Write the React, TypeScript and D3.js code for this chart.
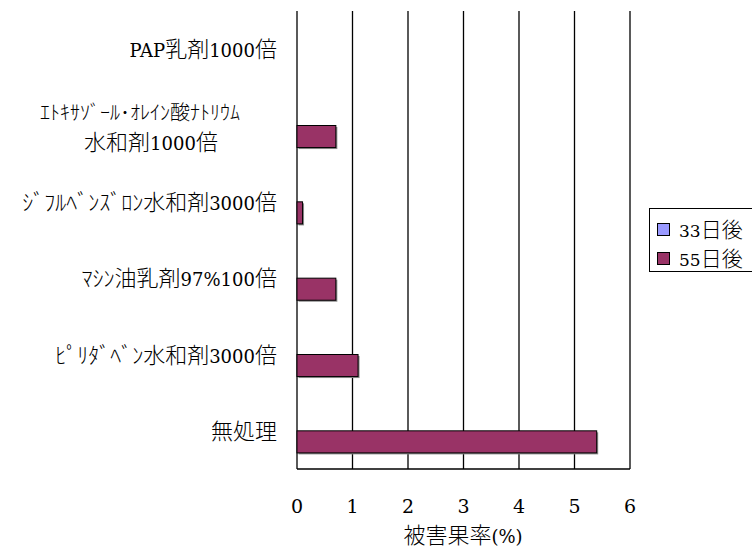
import React, { useEffect, useRef } from 'react';
import * as d3 from 'd3';

// categories top to bottom, "\n" splits a wrapped label
const categories = [
  'PAP乳剤1000倍',
  'ｴﾄｷｻｿﾞｰﾙ･ｵﾚｲﾝ酸ﾅﾄﾘｳﾑ\n水和剤1000倍',
  'ｼﾞﾌﾙﾍﾞﾝｽﾞﾛﾝ水和剤3000倍',
  'ﾏｼﾝ油乳剤97%100倍',
  'ﾋﾟﾘﾀﾞﾍﾞﾝ水和剤3000倍',
  '無処理',
];
const seriesNames = ['33日後', '55日後'];
const values33 = [0, 0, 0, 0, 0, 0];
const values55 = [0, 0.7, 0.1, 0.7, 1.1, 5.4];
const xTicks = [0, 1, 2, 3, 4, 5, 6];
const xTitle = '被害果率(%)';

const colors = ['#9999FF', '#993366'];
const LATIN = '"DejaVu Serif", serif';
const CJK = '"Noto Sans CJK JP", sans-serif';

// write text as runs: ascii in a serif face (a bit smaller), the rest in the CJK face
function mixedText(sel: any, str: string, size: number) {
  const runs = str.match(/[\x20-\x7e]+|[^\x20-\x7e]+/g) || [];
  runs.forEach(r => {
    const ascii = /^[\x20-\x7e]+$/.test(r);
    sel.append('tspan')
      .attr('font-family', ascii ? LATIN : CJK)
      .attr('font-weight', ascii ? 400 : 300)
      .attr('font-size', ascii ? Math.round(size * 0.82) : size)
      .text(r);
  });
  return sel;
}

const App = () => {
  const svgRef = useRef<SVGSVGElement>(null);

  useEffect(() => {
    const svg = d3.select(svgRef.current);
    svg.selectAll('*').remove();

    const left = 297, right = 630, top = 11, bottom = 469;

    const x = d3.scaleLinear().domain([0, 6]).range([left, right]);
    const y = d3.scaleBand().domain(categories).range([top, bottom]);
    const ySub = d3.scaleBand().domain(seriesNames)
      .range([0, y.bandwidth()])
      .paddingOuter(0.73);

    // vertical grid lines
    svg.append('g')
      .selectAll('line')
      .data(xTicks)
      .enter().append('line')
      .attr('x1', d => x(d))
      .attr('x2', d => x(d))
      .attr('y1', top)
      .attr('y2', bottom)
      .attr('stroke', '#000')
      .attr('stroke-width', 1.3);

    // bottom axis line
    svg.append('line')
      .attr('x1', left).attr('x2', right)
      .attr('y1', bottom).attr('y2', bottom)
      .attr('stroke', '#000')
      .attr('stroke-width', 1.3);

    // bars
    const series = [values33, values55];
    series.forEach((vals, si) => {
      const g = svg.append('g');
      const rows = categories.map((c, i) => ({ c, v: vals[i] })).filter(d => d.v > 0);
      // slight shadow
      g.selectAll('rect.shadow')
        .data(rows)
        .enter().append('rect')
        .attr('class', 'shadow')
        .attr('x', x(0) + 1.5)
        .attr('y', d => (y(d.c) as number) + (ySub(seriesNames[si]) as number) + 1.5)
        .attr('width', d => x(d.v) - x(0))
        .attr('height', ySub.bandwidth())
        .attr('fill', '#8a8a8a');
      g.selectAll('rect.bar')
        .data(rows)
        .enter().append('rect')
        .attr('class', 'bar')
        .attr('x', x(0))
        .attr('y', d => (y(d.c) as number) + (ySub(seriesNames[si]) as number))
        .attr('width', d => x(d.v) - x(0))
        .attr('height', ySub.bandwidth())
        .attr('fill', colors[si])
        .attr('stroke', '#000')
        .attr('stroke-width', 1);
    });

    // category labels
    categories.forEach(c => {
      const lines = c.split('\n');
      const cy = (y(c) as number) + y.bandwidth() / 2;
      if (lines.length === 1) {
        const t = svg.append('text')
          .attr('x', 277)
          .attr('y', cy)
          .attr('dy', 8)
          .attr('text-anchor', 'end')
          .attr('fill', '#000');
        mixedText(t, c, 22);
      } else {
        const offs = [-14, 16];
        lines.forEach((l, i) => {
          const t = svg.append('text')
            .attr('x', i === 0 ? 140 : 151)
            .attr('y', cy + offs[i])
            .attr('dy', 8)
            .attr('text-anchor', 'middle')
            .attr('fill', '#000');
          mixedText(t, l, i === 0 ? 20 : 22);
        });
      }
    });

    // x tick labels
    svg.append('g')
      .selectAll('text')
      .data(xTicks)
      .enter().append('text')
      .attr('x', d => x(d))
      .attr('y', 513)
      .attr('text-anchor', 'middle')
      .attr('font-family', LATIN)
      .attr('font-size', 19)
      .attr('fill', '#000')
      .text(d => d);

    const tt = svg.append('text')
      .attr('x', 463)
      .attr('y', 543)
      .attr('text-anchor', 'middle')
      .attr('fill', '#000');
    mixedText(tt, xTitle, 22);

    // legend
    const lg = svg.append('g');
    lg.append('rect')
      .attr('x', 649.5).attr('y', 208.5)
      .attr('width', 110).attr('height', 63)
      .attr('fill', '#fff')
      .attr('stroke', '#000')
      .attr('stroke-width', 1);
    seriesNames.forEach((s, i) => {
      const cy = 230 + i * 29;
      lg.append('rect')
        .attr('x', 657.5).attr('y', cy - 6.5)
        .attr('width', 12).attr('height', 12)
        .attr('fill', colors[i])
        .attr('stroke', '#000')
        .attr('stroke-width', 1);
      const t = lg.append('text')
        .attr('x', 679)
        .attr('y', cy)
        .attr('dy', 7)
        .attr('fill', '#000');
      mixedText(t, s, 21);
    });
  }, []);

  return (
    <div style={{ position: 'absolute', left: 0, top: 0 }}>
      <svg ref={svgRef} width={752} height={548} style={{ display: 'block', background: '#fff' }}></svg>
    </div>
  );
};

export default App;
